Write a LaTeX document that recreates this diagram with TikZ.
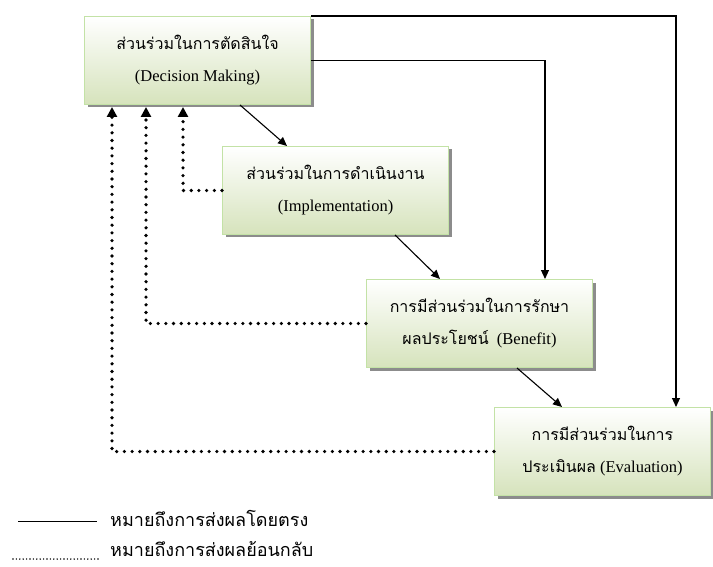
\documentclass[tikz,border=0pt]{standalone}
\usepackage{fontspec}
\setmainfont{Liberation Serif}
\newfontfamily\thfont[Script=Thai]{Loma}
\usetikzlibrary{arrows.meta,shadows,calc}
\tikzset{
  box/.style={draw=green!35!olive!35, line width=1pt, top color=white, bottom color={rgb,255:red,214;green,227;blue,188},
    minimum width=226pt, minimum height=88pt, inner sep=0pt, anchor=north west, align=center,
    font=\fontsize{16.5}{32}\selectfont,
    drop shadow={shadow xshift=3pt, shadow yshift=-3pt, fill=black!45, opacity=1}},
  solidarrow/.style={line width=1.1pt, -{Triangle[length=9pt,width=8pt]}},
  dotarrow/.style={line width=3.6pt, line cap=round, dash pattern=on 0pt off 7.7pt, -{Triangle[length=10pt,width=10pt]}},
  legtext/.style={anchor=west, font=\thfont\fontsize{18}{20}\selectfont, inner sep=0pt}
}
\begin{document}
\begin{tikzpicture}[x=1pt,y=-1pt]
\useasboundingbox (0,0) rectangle (713,567);
\node[box] (b1) at (84,16) {{\thfont\fontsize{16}{32}\selectfont ส่วนร่วมในการตัดสินใจ}\\(Decision Making)};
\node[box] (b2) at (222,146) {{\thfont\fontsize{16}{32}\selectfont ส่วนร่วมในการดำเนินงาน}\\(Implementation)};
\node[box] (b3) at (366,279) {{\thfont\fontsize{16}{32}\selectfont การมีส่วนร่วมในการรักษา}\\{\thfont\fontsize{16}{32}\selectfont ผลประโยชน์} \ (Benefit)};
\node[box, minimum width=216pt] (b4) at (494,407) {{\thfont\fontsize{16}{32}\selectfont การมีส่วนร่วมในการ}\\{\thfont\fontsize{16}{32}\selectfont ประเมินผล} (Evaluation)};
% solid
\draw[solidarrow] ([xshift=156pt]b1.south west) -- ([xshift=65pt]b2.north west);
\draw[solidarrow] ([xshift=173pt]b2.south west) -- ([xshift=74pt]b3.north west);
\draw[solidarrow] ([xshift=151pt]b3.south west) -- ([xshift=68pt]b4.north west);
\draw[solidarrow] (b1.east) -| ([xshift=179pt]b3.north west);
\draw[solidarrow] (b1.north east) -| ([xshift=182pt]b4.north west);
% dotted
\draw[dotarrow] (b2.west) -| ([xshift=99pt,yshift=-2pt]b1.south west);
\draw[dotarrow] (b3.west) -| ([xshift=62pt,yshift=-2pt]b1.south west);
\draw[dotarrow] (b4.west) -| ([xshift=28pt,yshift=-2pt]b1.south west);
% legend
\coordinate (l1a) at (18,521);
\coordinate (l1b) at (97,521);
\coordinate (l2a) at (13,559);
\coordinate (l2b) at (100,559);
\draw[line width=0.9pt] (l1a) -- (l1b);
\draw[line width=1.6pt, line cap=round, dash pattern=on 0pt off 3.4pt] (l2a) -- (l2b);
\node[legtext] (t1) at (110,518) {หมายถึงการส่งผลโดยตรง};
\node[legtext] (t2) at (110,549) {หมายถึงการส่งผลย้อนกลับ};
\end{tikzpicture}
\end{document}
